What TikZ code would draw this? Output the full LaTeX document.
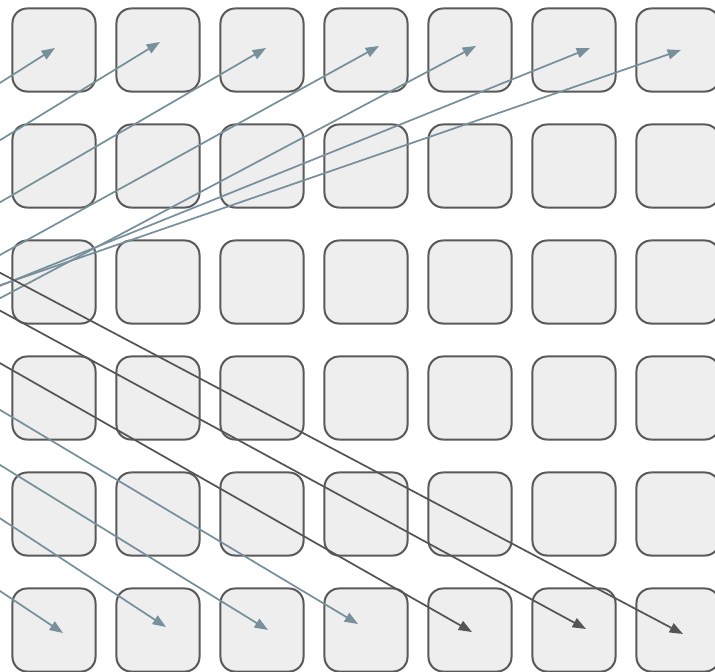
\documentclass[tikz,border=0pt]{standalone}
\usetikzlibrary{arrows.meta}
\definecolor{boxfill}{HTML}{EEEEEE}
\definecolor{boxline}{HTML}{595959}
\definecolor{bluegray}{HTML}{78909C}
\definecolor{darkline}{HTML}{555555}
\tikzset{
  cell/.style={draw=boxline, fill=boxfill, line width=1.5pt, rounded corners=11pt,
    minimum width=62.3pt, minimum height=62.3pt, inner sep=0pt, outer sep=0pt},
  bluearrow/.style={draw=bluegray, line width=1.3pt, -{Triangle[length=10pt,width=7.5pt]}},
  darkarrow/.style={draw=darkline, line width=1.3pt, -{Triangle[length=10pt,width=7.5pt]}}
}
\begin{document}
\begin{tikzpicture}[x=0.75pt, y=-0.75pt]
\useasboundingbox (0,0) rectangle (715,672);
\clip (0,0) rectangle (715,672);
\foreach \r in {0,...,5}{
  \foreach \c in {0,...,6}{
    \node[cell] (b-\r-\c) at ({54+104*\c},{50+116*\r}) {};
  }
}
% sources (off-frame) and tips
\coordinate (s1) at (-60,121); \coordinate (t1) at (55,48);
\coordinate (s2) at (-60,177); \coordinate (t2) at (160,42);
\coordinate (s3) at (-60,237); \coordinate (t3) at (266,48);
\coordinate (s4) at (-60,288); \coordinate (t4) at (379,46);
\coordinate (s5) at (-60,330); \coordinate (t5) at (476,46);
\coordinate (s6) at (-60,310); \coordinate (t6) at (590,48);
\coordinate (s7) at (-60,306); \coordinate (t7) at (681,50);
\coordinate (sa) at (-60,241); \coordinate (ta) at (683,634);
\coordinate (sb) at (-60,278); \coordinate (tb) at (586,629);
\coordinate (sc) at (-60,329); \coordinate (tc) at (472,632);
\coordinate (sd) at (-60,374); \coordinate (td) at (358,624);
\coordinate (se) at (-60,428); \coordinate (te) at (268,630);
\coordinate (sf) at (-60,479); \coordinate (tf) at (166,627);
\coordinate (sg) at (-60,551); \coordinate (tg) at (63,633);
\foreach \i in {1,...,7}{ \draw[bluearrow] (s\i) -- (t\i); }
\foreach \i in {a,b,c}{ \draw[darkarrow] (s\i) -- (t\i); }
\foreach \i in {d,e,f,g}{ \draw[bluearrow] (s\i) -- (t\i); }
\end{tikzpicture}
\end{document}
